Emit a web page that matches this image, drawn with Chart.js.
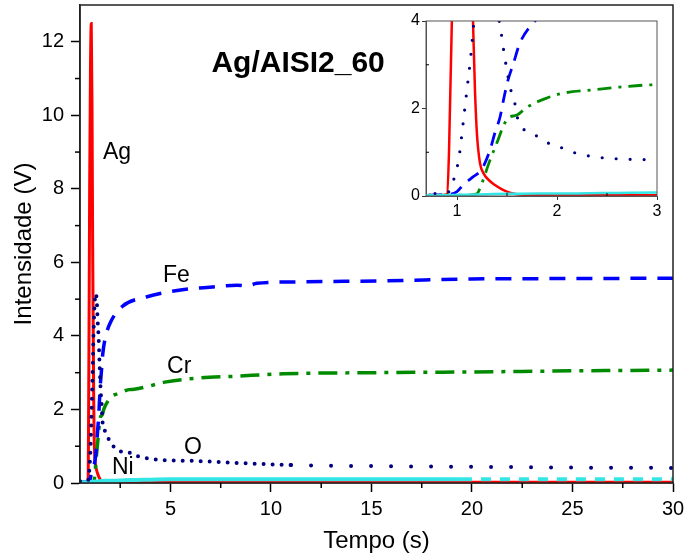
<!DOCTYPE html>
<html>
<head>
<meta charset="utf-8">
<script src="https://cdn.jsdelivr.net/npm/chart.js@4.4.1/dist/chart.umd.min.js"></script>
<style>
    html, body { margin: 0; padding: 0; background: #fff; }
    #wrap { position: relative; width: 686px; height: 557px; }
    #main { position: absolute; left: 0; top: 0; }
    #inset { position: absolute; left: 395px; top: 10px; }
</style>
</head>
<body>
<div id="wrap">
    <canvas id="main" width="686" height="557"></canvas>
    <canvas id="inset" width="275" height="212"></canvas>
</div>
<script>
// ==================== DATOS ====================
const agTime = [0.5, 0.85, 0.9, 0.92, 0.95, 0.98, 1.02, 1.06, 1.1, 1.13, 1.16, 1.18, 1.2, 1.23, 1.27, 1.32, 1.38, 1.45, 1.52, 1.6, 1.8, 2.5, 5, 10, 20, 30];
const agVolt = [0.02, 0.02, 0.04, 1.0, 4.2, 8.0, 11.2, 12.5, 10.0, 6.5, 4.0, 2.4, 1.4, 0.75, 0.5, 0.36, 0.25, 0.15, 0.08, 0.04, 0.02, 0.02, 0.02, 0.02, 0.02, 0.02];

const feTime = [0.5, 0.9, 1.0, 1.06, 1.15, 1.25, 1.33, 1.38, 1.43, 1.47, 1.51, 1.56, 1.63, 1.76, 2.0, 2.6, 3.8, 5.5, 7.1, 8.3, 8.8, 9.3, 11.3, 15.8, 20, 25, 30];
const feVolt = [0.02, 0.03, 0.1, 0.25, 0.42, 0.62, 1.05, 1.45, 1.8, 2.25, 2.65, 3.0, 3.5, 3.95, 4.35, 4.8, 5.06, 5.25, 5.33, 5.38, 5.36, 5.43, 5.47, 5.5, 5.55, 5.56, 5.57];

const crTime = [0.5, 1.1, 1.2, 1.23, 1.33, 1.41, 1.46, 1.51, 1.6, 1.7, 1.9, 2.06, 2.33, 2.63, 2.93, 3.2, 4.8, 6.5, 8.1, 10.6, 15.1, 20, 25, 30];
const crVolt = [0.02, 0.02, 0.05, 0.18, 0.82, 1.28, 1.58, 1.78, 1.85, 2.03, 2.24, 2.35, 2.42, 2.49, 2.54, 2.55, 2.75, 2.86, 2.9, 2.97, 3.0, 3.02, 3.05, 3.07];

const oTime = [0.5, 0.85, 0.92, 0.98, 1.02, 1.06, 1.1, 1.14, 1.17, 1.22, 1.27, 1.33, 1.38, 1.43, 1.47, 1.53, 1.58, 1.61, 1.7, 1.81, 1.93, 2.05, 2.16, 2.36, 2.6, 3.0, 3.3, 4.5, 6.2, 8.1, 11, 15, 20, 25, 30];
const oVolt = [0.05, 0.06, 0.1, 0.48, 0.88, 1.64, 2.44, 3.24, 4.0, 4.8, 5.15, 5.0, 4.4, 3.9, 3.28, 2.5, 2.1, 1.74, 1.47, 1.36, 1.19, 1.1, 1.0, 0.9, 0.85, 0.82, 0.74, 0.63, 0.6, 0.55, 0.49, 0.46, 0.44, 0.42, 0.41];

const niTime = [0.5, 0.9, 1.1, 1.3, 1.5, 1.8, 2.2, 2.6, 3.0, 4, 5, 7, 10, 15, 19.5, 25, 30];
const niVolt = [0.02, 0.02, 0.03, 0.04, 0.05, 0.06, 0.06, 0.07, 0.08, 0.09, 0.1, 0.1, 0.1, 0.1, 0.1, 0.1, 0.1];

const mainXTicks = [5, 10, 15, 20, 25, 30];
const mainYTicks = [0, 2, 4, 6, 8, 10, 12];
const mainXMinor = [2.5, 7.5, 12.5, 17.5, 22.5, 27.5];
const mainYMinor = [1, 3, 5, 7, 9, 11];
const insetXTicks = [1, 2, 3];
const insetYTicks = [0, 2, 4];
const insetXMinor = [1.5, 2.5];
const insetYMinor = [1, 3];

const FONT = "'Liberation Sans', Arial, sans-serif";
Chart.defaults.font.family = FONT;
Chart.defaults.color = '#000';

function serie(t, v) {
    return t.map((x, i) => ({ x: x, y: v[i] }));
}

// sin padding extra de las etiquetas en los bordes
function noPad(s) {
    s.paddingTop = 0;
    s.paddingBottom = 0;
    s.paddingLeft = 0;
    s.paddingRight = 0;
}

// Plugin: marco, ticks menores y etiquetas de texto
const decor = {
    id: 'decor',
    afterDraw(chart, args, opts) {
        const ctx = chart.ctx;
        const a = chart.chartArea;
        const xs = chart.scales.x, ys = chart.scales.y;
        ctx.save();
        ctx.strokeStyle = opts.frameColor;
        ctx.lineWidth = opts.frameWidth;
        ctx.strokeRect(a.left, a.top, a.right - a.left, a.bottom - a.top);

        ctx.strokeStyle = '#000';
        ctx.lineWidth = opts.tickWidth;
        const d = opts.minorOut ? 1 : -1;
        opts.minorX.forEach(v => {
            const px = xs.getPixelForValue(v);
            ctx.beginPath();
            ctx.moveTo(px, a.bottom);
            ctx.lineTo(px, a.bottom + d * opts.minorLen);
            ctx.stroke();
        });
        opts.minorY.forEach(v => {
            const py = ys.getPixelForValue(v);
            ctx.beginPath();
            ctx.moveTo(a.left, py);
            ctx.lineTo(a.left - d * opts.minorLen, py);
            ctx.stroke();
        });

        (opts.labels || []).forEach(l => {
            ctx.font = l.font;
            ctx.fillStyle = '#000';
            ctx.textAlign = l.align;
            ctx.textBaseline = 'middle';
            ctx.fillText(l.text, xs.getPixelForValue(l.x), ys.getPixelForValue(l.y));
        });
        ctx.restore();
    }
};

function buildDatasets(inset) {
    const k = inset ? 0.8 : 1;
    return [
        {
            label: 'O',
            data: serie(oTime, oVolt),
            borderColor: '#000080',
            borderWidth: inset ? 3.2 : 4,
            borderCapStyle: 'round',
            borderDash: inset ? [0, 14] : [0, 9],
            segment: inset ? {} : {
                borderDash: c => c.p0.parsed.x > 10.5 ? [0, 20] : [0, 9]
            }
        },
        {
            label: 'Ni',
            data: serie(niTime, niVolt),
            borderColor: '#33e6e6',
            borderWidth: inset ? 2.5 : 4,
            segment: inset ? {} : {
                borderDash: c => c.p0.parsed.x >= 19.5 ? [10, 9] : undefined
            }
        },
        {
            label: 'Fe',
            data: serie(feTime, feVolt),
            borderColor: '#0000ff',
            borderWidth: 3.5 * k,
            borderDash: inset ? [13, 9] : [16, 11]
        },
        {
            label: 'Cr',
            data: serie(crTime, crVolt),
            borderColor: '#008a00',
            borderWidth: 3.5 * k,
            borderDash: inset ? [14, 7, 3, 7] : [19, 8, 4, 8]
        },
        {
            label: 'Ag',
            data: serie(agTime, agVolt),
            borderColor: '#ff0000',
            borderWidth: inset ? 2.5 : 3
        }
    ].map(ds => Object.assign(ds, {
        pointRadius: 0,
        fill: false,
        cubicInterpolationMode: 'monotone'
    }));
}

// ==================== GRAFICO PRINCIPAL ====================
new Chart(document.getElementById('main'), {
    type: 'line',
    data: { datasets: buildDatasets(false) },
    options: {
        responsive: false,
        animation: false,
        layout: { padding: { top: 5, right: 13, left: 0, bottom: 0 } },
        plugins: {
            legend: { display: false },
            tooltip: { enabled: false },
            decor: {
                frameColor: '#222',
                frameWidth: 1.5,
                tickWidth: 1.5,
                minorLen: 5,
                minorOut: true,
                minorX: mainXMinor,
                minorY: mainYMinor,
                labels: [
                    { text: 'Ag/AISI2_60', x: 11.35, y: 11.4, align: 'center', font: "bold 30px " + FONT },
                    { text: 'Ag', x: 1.64, y: 8.98, align: 'left', font: "23px " + FONT },
                    { text: 'Fe', x: 4.63, y: 5.63, align: 'left', font: "23px " + FONT },
                    { text: 'Cr', x: 4.83, y: 3.16, align: 'left', font: "23px " + FONT },
                    { text: 'O', x: 5.67, y: 0.95, align: 'left', font: "23px " + FONT },
                    { text: 'Ni', x: 2.09, y: 0.41, align: 'left', font: "23px " + FONT }
                ]
            }
        },
        scales: {
            x: {
                type: 'linear',
                min: 0.5,
                max: 30,
                afterBuildTicks: s => { s.ticks = mainXTicks.map(v => ({ value: v })); },
                afterFit: s => { s.height = 74; noPad(s); },
                grid: { drawOnChartArea: false, drawTicks: true, tickLength: 9, tickColor: '#000', tickWidth: 1.5 },
                border: { display: true, color: '#222', width: 1.5 },
                ticks: { font: { size: 20 }, color: '#000', padding: 5, maxRotation: 0, autoSkip: false },
                title: { display: true, text: 'Tempo (s)', font: { size: 24 }, color: '#000', padding: { top: 0, bottom: 1 } }
            },
            y: {
                type: 'linear',
                min: 0,
                max: 13,
                afterBuildTicks: s => { s.ticks = mainYTicks.map(v => ({ value: v })); },
                afterFit: s => { s.width = 80; noPad(s); },
                grid: { drawOnChartArea: false, drawTicks: true, tickLength: 9, tickColor: '#000', tickWidth: 1.5 },
                border: { display: true, color: '#222', width: 1.5 },
                ticks: { font: { size: 20 }, color: '#000', padding: 7, autoSkip: false },
                title: { display: true, text: 'Intensidade (V)', font: { size: 24 }, color: '#000', padding: { top: 10, bottom: 0 } }
            }
        }
    },
    plugins: [decor]
});

// ==================== INSERTO ====================
new Chart(document.getElementById('inset'), {
    type: 'line',
    data: { datasets: buildDatasets(true) },
    options: {
        responsive: false,
        animation: false,
        layout: { padding: { top: 11, right: 13, left: 0, bottom: 0 } },
        plugins: {
            legend: { display: false },
            tooltip: { enabled: false },
            decor: {
                frameColor: '#555',
                frameWidth: 1,
                tickWidth: 1,
                minorLen: 3,
                minorOut: false,
                minorX: insetXMinor,
                minorY: insetYMinor,
                labels: []
            }
        },
        scales: {
            x: {
                type: 'linear',
                min: 0.69,
                max: 3,
                afterBuildTicks: s => { s.ticks = insetXTicks.map(v => ({ value: v })); },
                afterFit: s => { s.height = 26; noPad(s); },
                grid: { drawOnChartArea: false, drawTicks: true, tickLength: 4, tickColor: '#333', tickWidth: 1 },
                border: { display: true, color: '#555', width: 1 },
                ticks: { font: { size: 16 }, color: '#000', padding: 2, maxRotation: 0, autoSkip: false }
            },
            y: {
                type: 'linear',
                min: 0,
                max: 4,
                afterBuildTicks: s => { s.ticks = insetYTicks.map(v => ({ value: v })); },
                afterFit: s => { s.width = 31; noPad(s); },
                grid: { drawOnChartArea: false, drawTicks: true, tickLength: 4, tickColor: '#333', tickWidth: 1 },
                border: { display: true, color: '#555', width: 1 },
                ticks: { font: { size: 16 }, color: '#000', padding: 2, autoSkip: false }
            }
        }
    },
    plugins: [decor]
});
</script>
</body>
</html>
